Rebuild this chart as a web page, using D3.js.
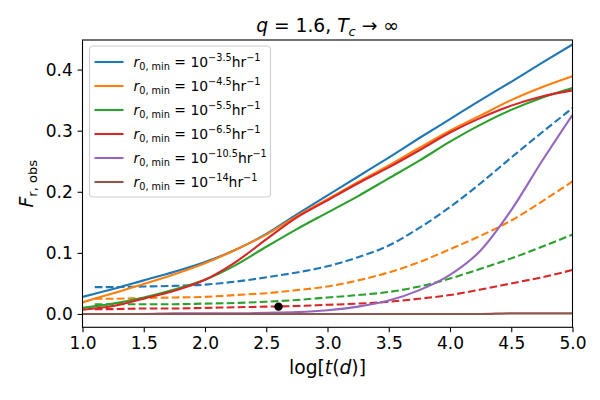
<!DOCTYPE html>
<html>
<head>
<meta charset="utf-8">
<script src="https://cdn.jsdelivr.net/npm/d3@7"></script>
<style>
  body { margin: 0; background: #fff; }
  text { font-family: "DejaVu Sans", sans-serif; fill: #000; }
</style>
</head>
<body>
<script>
// log[t(d)] grid the curves are read at
var tGrid = [1.0, 1.25, 1.5, 1.75, 2.0, 2.25, 2.5, 2.75, 3.0, 3.25, 3.5, 3.75, 4.0, 4.25, 4.5, 4.75, 5.0];
var tGridDashed = [1.1, 1.25, 1.5, 1.75, 2.0, 2.25, 2.5, 2.75, 3.0, 3.25, 3.5, 3.75, 4.0, 4.25, 4.5, 4.75, 5.0];

var seriesExps = ["\u22123.5", "\u22124.5", "\u22125.5", "\u22126.5", "\u221210.5", "\u221214"];
var seriesColors = ["#1f77b4", "#ff7f0e", "#2ca02c", "#d62728", "#9467bd", "#8c564b"];

// solid curves
var solid35  = [0.028, 0.041, 0.055, 0.069, 0.085, 0.105, 0.131, 0.163, 0.194, 0.225, 0.256, 0.288, 0.319, 0.350, 0.380, 0.411, 0.441];
var solid45  = [0.019, 0.034, 0.049, 0.065, 0.083, 0.105, 0.130, 0.160, 0.188, 0.216, 0.243, 0.272, 0.300, 0.325, 0.350, 0.371, 0.389];
var solid55  = [0.010, 0.017, 0.027, 0.040, 0.056, 0.080, 0.110, 0.139, 0.166, 0.193, 0.222, 0.251, 0.282, 0.310, 0.334, 0.354, 0.370];
var solid65  = [0.007, 0.013, 0.025, 0.038, 0.056, 0.085, 0.122, 0.158, 0.186, 0.214, 0.240, 0.268, 0.297, 0.321, 0.341, 0.356, 0.366];
var solid105 = [0.000, 0.000, 0.000, 0.001, 0.001, 0.001, 0.002, 0.003, 0.006, 0.012, 0.022, 0.039, 0.064, 0.104, 0.170, 0.250, 0.326];
var solid14  = [0.000, 0.000, 0.000, 0.000, 0.000, 0.000, 0.000, 0.000, 0.000, 0.000, 0.000, 0.000, 0.000, 0.000, 0.001, 0.001, 0.001];

// dashed curves
var dashed35 = [0.044, 0.044, 0.045, 0.046, 0.048, 0.053, 0.060, 0.068, 0.078, 0.093, 0.112, 0.141, 0.175, 0.214, 0.256, 0.297, 0.337];
var dashed45 = [0.025, 0.025, 0.026, 0.027, 0.028, 0.031, 0.034, 0.039, 0.045, 0.055, 0.068, 0.085, 0.106, 0.128, 0.153, 0.184, 0.217];
var dashed55 = [0.016, 0.016, 0.016, 0.016, 0.017, 0.018, 0.020, 0.023, 0.027, 0.031, 0.036, 0.045, 0.058, 0.074, 0.091, 0.110, 0.130];
var dashed65 = [0.008, 0.008, 0.009, 0.009, 0.010, 0.011, 0.012, 0.013, 0.015, 0.017, 0.020, 0.025, 0.031, 0.040, 0.050, 0.060, 0.072];

var markerPoint = [2.6, 0.012];

var xTicks = [1.0, 1.5, 2.0, 2.5, 3.0, 3.5, 4.0, 4.5, 5.0];
var yTicks = [0.0, 0.1, 0.2, 0.3, 0.4];

var solids = [solid35, solid45, solid55, solid65, solid105, solid14];
var dasheds = [dashed35, dashed45, dashed55, dashed65];

var width = 600, height = 400;
var margin = { left: 82.5, right: 27.5, top: 40, bottom: 72.7 };
var plotW = width - margin.left - margin.right,
    plotH = height - margin.top - margin.bottom;
var fs = 13.9,      // legend text
    tickFs = 17,    // tick labels
    labelFs = 18.7; // axis labels and title

var x = d3.scaleLinear().domain([1, 5]).range([0, plotW]);
var y = d3.scaleLinear().domain([-0.0218, 0.4484]).range([plotH, 0]);

var svg = d3.select("body").append("svg")
    .attr("width", width)
    .attr("height", height);

// draws mathtext-like runs: parts = [{t, it, sub, sup}]
function mathText(sel, parts, size) {
    var cur = 0;
    parts.forEach(function(p) {
        var target = p.sub ? 0.22 * size : (p.sup ? -0.42 * size : 0);
        var ts = sel.append("tspan")
            .attr("dy", target - cur)
            .style("font-size", (p.sub || p.sup ? size * 0.7 : size) + "px")
            .text(p.t);
        if (p.it) ts.style("font-style", "italic");
        cur = target;
    });
    return sel;
}

svg.append("defs").append("clipPath").attr("id", "clip")
    .append("rect").attr("width", plotW).attr("height", plotH);

var g = svg.append("g")
    .attr("transform", "translate(" + margin.left + "," + margin.top + ")");

var line = d3.line()
    .x(function(d) { return x(d[0]); })
    .y(function(d) { return y(d[1]); })
    .curve(d3.curveMonotoneX);

var plot = g.append("g").attr("clip-path", "url(#clip)");

// solid then dashed for each r0,min
solids.forEach(function(vals, i) {
    plot.append("path")
        .datum(tGrid.map(function(t, k) { return [t, vals[k]]; }))
        .attr("fill", "none")
        .attr("stroke", seriesColors[i])
        .attr("stroke-width", 2.1)
        .attr("d", line);
    if (dasheds[i]) {
        plot.append("path")
            .datum(tGridDashed.map(function(t, k) { return [t, dasheds[i][k]]; }))
            .attr("fill", "none")
            .attr("stroke", seriesColors[i])
            .attr("stroke-width", 2.1)
            .attr("stroke-dasharray", "7.7,3.3")
            .attr("d", line);
    }
});

plot.append("circle")
    .attr("cx", x(markerPoint[0]))
    .attr("cy", y(markerPoint[1]))
    .attr("r", 4.2)
    .attr("fill", "#000");

// axes
var xAxis = g.append("g")
    .attr("transform", "translate(0," + plotH + ")")
    .call(d3.axisBottom(x).tickValues(xTicks).tickFormat(d3.format(".1f")).tickSizeInner(4.9).tickSizeOuter(0).tickPadding(4.9));
var yAxis = g.append("g")
    .call(d3.axisLeft(y).tickValues(yTicks).tickFormat(d3.format(".1f")).tickSizeInner(4.9).tickSizeOuter(0).tickPadding(4.9));
[xAxis, yAxis].forEach(function(a) {
    a.select(".domain").remove();
    a.selectAll("line").attr("stroke", "#000").attr("stroke-width", 1.1);
    a.selectAll("text").style("font-size", tickFs + "px").style("font-family", "DejaVu Sans");
});

g.append("rect")
    .attr("width", plotW).attr("height", plotH)
    .attr("fill", "none").attr("stroke", "#000").attr("stroke-width", 1.1);

// title
mathText(svg.append("text")
    .attr("x", margin.left + plotW / 2).attr("y", 31.5)
    .attr("text-anchor", "middle"),
    [{t: "q", it: true}, {t: " = 1.6, "}, {t: "T", it: true}, {t: "c", it: true, sub: true}, {t: " \u2192 \u221e"}], labelFs);

// axis labels
svg.append("text")
    .attr("x", margin.left + plotW / 2).attr("y", 374)
    .attr("text-anchor", "middle")
    .style("font-size", labelFs + "px")
    .text("log[")
    .call(function(s) {
        s.append("tspan").style("font-style", "italic").text("t");
        s.append("tspan").text("(");
        s.append("tspan").style("font-style", "italic").text("d");
        s.append("tspan").text(")]");
    });

mathText(svg.append("text")
    .attr("transform", "translate(33," + (margin.top + plotH / 2) + ") rotate(-90)")
    .attr("text-anchor", "middle"),
    [{t: "F", it: true}, {t: "r, obs", sub: true}], labelFs);

// legend
var leg = svg.append("g").attr("transform", "translate(89.5,46)");
leg.append("rect")
    .attr("width", 181).attr("height", 151)
    .attr("rx", 3)
    .attr("fill", "#fff").attr("fill-opacity", 0.8)
    .attr("stroke", "#cccccc").attr("stroke-width", 1);
seriesExps.forEach(function(e, i) {
    var yy = 16 + i * 24;
    leg.append("line")
        .attr("x1", 5).attr("x2", 34).attr("y1", yy).attr("y2", yy)
        .attr("stroke", seriesColors[i]).attr("stroke-width", 2.1);
    mathText(leg.append("text").attr("x", 44).attr("y", yy + 5),
        [{t: "r", it: true}, {t: "0, min", sub: true}, {t: " = 10"}, {t: e, sup: true}, {t: "hr"}, {t: "\u22121", sup: true}], fs);
});
</script>
</body>
</html>
